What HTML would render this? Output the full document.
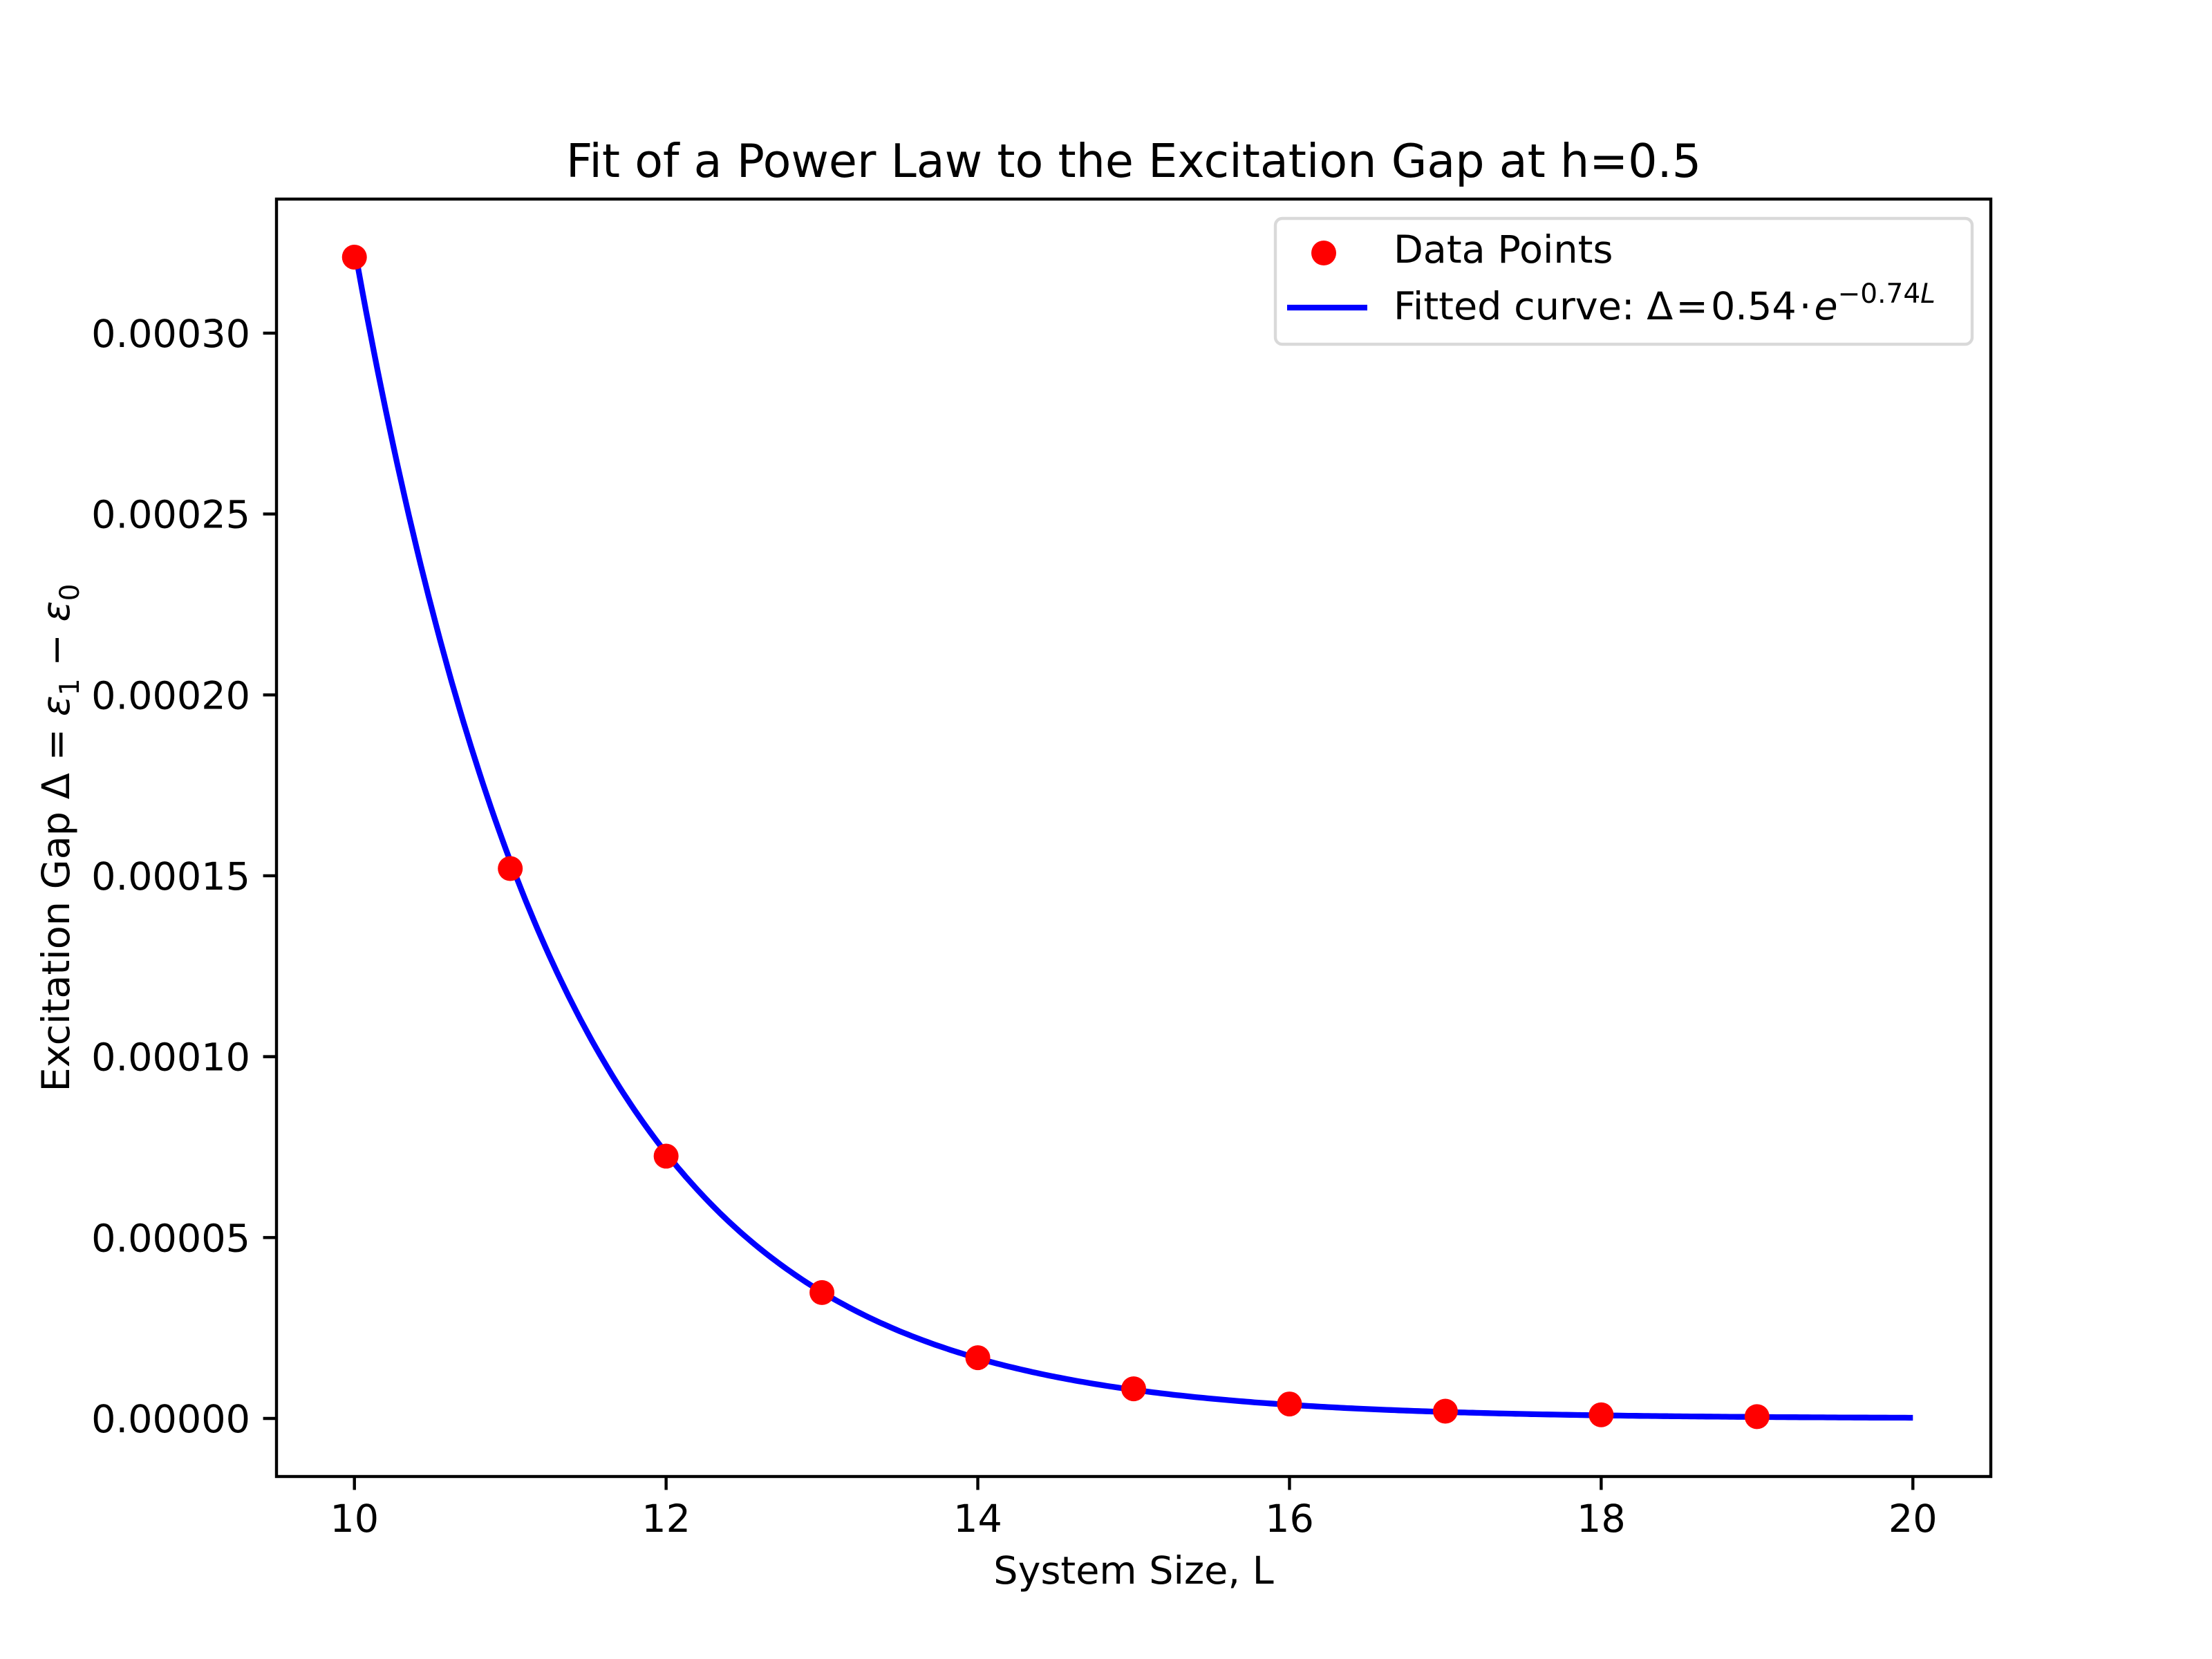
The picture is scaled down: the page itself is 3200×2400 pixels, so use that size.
<!DOCTYPE html>
<html><head><meta charset="utf-8"><style>
html,body{margin:0;padding:0;background:#fff}
svg{display:block}
text{font-family:"DejaVu Sans","Liberation Sans",sans-serif}
</style></head><body>
<svg id="chart" width="3200" height="2400" viewBox="0 0 3200 2400" xmlns="http://www.w3.org/2000/svg">
<rect width="3200" height="2400" fill="#fff"/>
<text x="1640" y="256" font-size="66.7" text-anchor="middle">Fit of a Power Law to the Excitation Gap at h=0.5</text>
<g id="plot"></g>
<rect x="400" y="288" width="2480" height="1848" fill="none" stroke="#000" stroke-width="4.4"/>
<text x="1640" y="2291" font-size="55.6" text-anchor="middle">System Size, L</text>
<text transform="translate(100,1212) rotate(-90)" font-size="55.6" text-anchor="middle">Excitation Gap Δ = <tspan font-style="italic">ε</tspan><tspan font-size="39" dy="14">1</tspan><tspan dy="-14"> − </tspan><tspan font-style="italic">ε</tspan><tspan font-size="39" dy="14">0</tspan></text>
<g>
<rect x="1845" y="316" width="1008" height="182" rx="10" fill="#fff" fill-opacity="0.8" stroke="#d9d9d9" stroke-width="4.4"/>
<circle cx="1915" cy="366" r="18" fill="#ff0000"/>
<text x="2016" y="380" font-size="55.6">Data Points</text>
<line x1="1862" y1="445" x2="1978" y2="445" stroke="#0000ff" stroke-width="8.3"/>
<text x="2016" y="462" font-size="55.6">Fitted curve: Δ<tspan dx="4">=</tspan><tspan dx="4">0.54</tspan><tspan dx="4">·</tspan><tspan dx="4" font-style="italic">e</tspan><tspan font-size="39" dy="-24">−0.74<tspan font-style="italic">L</tspan></tspan></text>
</g>
</svg>
<script>
const xValues=[10,11,12,13,14,15,16,17,18,19];
const yValues=[0.000321,0.000152,0.0000725,0.0000348,0.0000168,0.0000082,0.0000040,0.0000020,0.0000010,0.0000005];
const fitParams=[0.54,0.742];
const xTicks=[10,12,14,16,18,20];
const yTicks=[0,0.00005,0.0001,0.00015,0.0002,0.00025,0.0003];
const yTickLabels=["0.00000","0.00005","0.00010","0.00015","0.00020","0.00025","0.00030"];
const NS="http://www.w3.org/2000/svg";
const L=400,R=2880,T=288,B=2136;
const xmin=9.5,xmax=20.5;
const ymax0=Math.max(...yValues),ymin=-0.05*ymax0,ymax=ymax0*1.05;
const sx=v=>L+(v-xmin)/(xmax-xmin)*(R-L);
const sy=v=>B-(v-ymin)/(ymax-ymin)*(B-T);
const g=document.getElementById('plot');
function mk(t,a){const e=document.createElementNS(NS,t);for(const k in a)e.setAttribute(k,a[k]);g.appendChild(e);return e;}
let d="";
for(let i=0;i<=400;i++){const x=10+i*10/400;const y=fitParams[0]*Math.exp(-fitParams[1]*x);d+=(i?"L":"M")+sx(x).toFixed(1)+","+sy(y).toFixed(1);}
const p=mk('path',{d:d,fill:'none',stroke:'#0000ff','stroke-width':8.3});


xValues.forEach((x,i)=>{const c=mk('circle',{cx:sx(x),cy:sy(yValues[i]),r:18,fill:'#ff0000'});

});
xTicks.forEach(t=>{const l=mk('line',{x1:sx(t),x2:sx(t),y1:B,y2:B+19.4,stroke:'#000','stroke-width':4.4});


const tx=mk('text',{x:sx(t),y:B+80,'font-size':55.6,'text-anchor':'middle'});tx.textContent=t;

});
yTicks.forEach((t,i)=>{const l=mk('line',{x1:L-19.4,x2:L,y1:sy(t),y2:sy(t),stroke:'#000','stroke-width':4.4});


const tx=mk('text',{x:L-38,y:sy(t)+20,'font-size':55.6,'text-anchor':'end'});tx.textContent=yTickLabels[i];

});
</script>
</body></html>
